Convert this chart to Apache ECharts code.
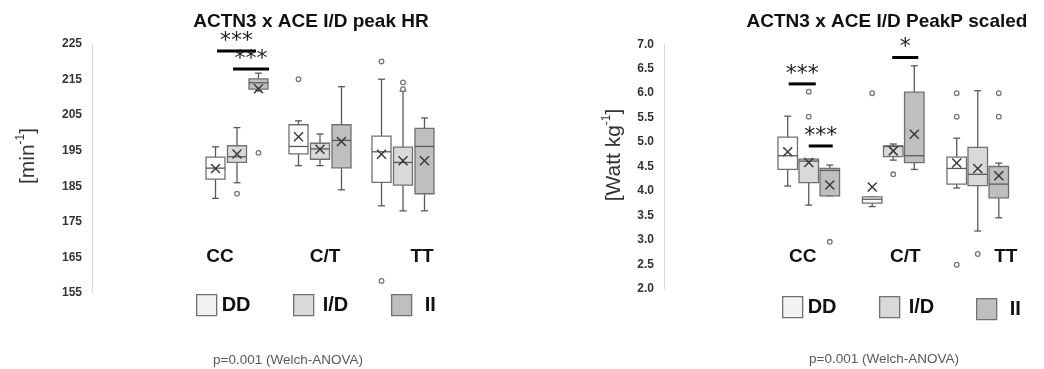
<!DOCTYPE html>
<html>
<head>
<meta charset="utf-8">
<script src="https://cdn.jsdelivr.net/npm/echarts@6/dist/echarts.min.js"></script>
<style>
html, body { margin: 0; padding: 0; background: #fff; }
#chart { width: 1044px; height: 369px; }
</style>
</head>
<body>
<div id="chart"></div>
<script>
// ACTN3 groups on the x axis, ACE I/D genotypes as the three boxes
var groups = ['CC', 'C/T', 'TT'];
var genotypes = ['DD', 'I/D', 'II'];

// peak HR [min-1], per group: [min, q1, median, q3, max, mean]
var hrDD = [[181.6, 187.0, 190.1, 193.2, 196.1, 190.0], [190.8, 194.1, 196.2, 202.3, 203.4, 198.9], [179.5, 186.1, 194.7, 199.1, 215.1, 194.0]];
var hrID = [[186.0, 191.7, 193.3, 196.4, 201.5, 194.1], [190.8, 192.6, 195.5, 197.1, 199.7, 195.4], [178.1, 185.3, 191.7, 196.0, 211.8, 192.2]];
var hrII = [[211.8, 212.3, 214.1, 215.2, 216.8, 212.4], [184.0, 190.2, 197.9, 202.3, 213.0, 197.6], [178.1, 182.9, 196.2, 201.3, 204.2, 192.2]];
// outliers: [group index, value]
var hrOutDD = [[1, 215.1], [2, 220.1], [2, 158.4]];
var hrOutID = [[0, 182.9], [2, 214.2], [2, 212.3]];
var hrOutII = [[0, 194.4]];

// peak power scaled [Watt kg-1]
var ppDD = [[4.10, 4.44, 4.72, 5.10, 5.53, 4.80], [3.68, 3.75, 3.83, 3.88, 3.88, 4.08], [4.06, 4.14, 4.46, 4.69, 5.08, 4.57]];
var ppID = [[3.71, 4.17, 4.61, 4.65, 4.65, 4.58], [4.63, 4.70, 4.91, 4.92, 4.96, 4.82], [3.18, 4.11, 4.34, 4.89, 6.05, 4.46]];
var ppII = [[3.90, 3.90, 4.42, 4.46, 4.53, 4.12], [4.44, 4.58, 4.72, 6.02, 6.56, 5.16], [3.45, 3.86, 4.14, 4.50, 4.57, 4.31]];
var ppOutDD = [[1, 6.0], [2, 6.0], [2, 5.52], [2, 2.49]];
var ppOutID = [[0, 6.03], [0, 5.52], [1, 4.34], [2, 2.71]];
var ppOutII = [[0, 2.96], [2, 6.0], [2, 5.52]];

// significance bars: [group index, from, to (in group widths), value, stars]
var hrSig = [[0, -0.241, 0.229, 223.0, 3], [0, -0.048, 0.386, 218.0, 3]];
var ppSig = [[0, -0.237, 0.083, 6.19, 3], [0, 0, 0.284, 4.92, 3], [1, -0.012, 0.296, 6.73, 1]];

var hrTicks = [155, 225, 10];
var ppTicks = [2, 7, 0.5];

var FONT = 'Liberation Sans, Arial, sans-serif';
var fills = ['#ffffff', '#d9d9d9', '#bfbfbf'];
var legendFills = ['#f2f2f2', '#d9d9d9', '#bfbfbf'];

function withIndex(rows) {
    return rows.map(function (r, i) { return [i].concat(r); });
}

function boxRender(k, shift, boxW) {
    return function (params, api) {
        var band = api.size([1, 0])[0];
        var g = api.value(0);
        var cx = api.coord([g, 0])[0] + (k - 1) * shift * band;
        var w = boxW * band;
        function py(d) { return api.coord([g, api.value(d)])[1]; }
        var yMin = py(1), yQ1 = py(2), yMed = py(3), yQ3 = py(4), yMax = py(5), yMean = py(6);
        var ln = { stroke: '#595959', lineWidth: 1.3 };
        var xs = { stroke: '#3a3a3a', lineWidth: 1.5 };
        var m = 4.5;
        return {
            type: 'group',
            children: [
                { type: 'line', shape: { x1: cx, y1: yMax, x2: cx, y2: yQ3 }, style: ln },
                { type: 'line', shape: { x1: cx, y1: yQ1, x2: cx, y2: yMin }, style: ln },
                { type: 'line', shape: { x1: cx - 3.5, y1: yMax, x2: cx + 3.5, y2: yMax }, style: ln },
                { type: 'line', shape: { x1: cx - 3.5, y1: yMin, x2: cx + 3.5, y2: yMin }, style: ln },
                { type: 'rect', shape: { x: cx - w / 2, y: yQ3, width: w, height: yQ1 - yQ3 },
                  style: { fill: api.visual('color'), stroke: '#707070', lineWidth: 1.3 } },
                { type: 'line', shape: { x1: cx - w / 2, y1: yMed, x2: cx + w / 2, y2: yMed }, style: ln },
                { type: 'line', shape: { x1: cx - m, y1: yMean - m, x2: cx + m, y2: yMean + m }, style: xs },
                { type: 'line', shape: { x1: cx - m, y1: yMean + m, x2: cx + m, y2: yMean - m }, style: xs }
            ]
        };
    };
}

function outRender(k, shift) {
    return function (params, api) {
        var band = api.size([1, 0])[0];
        var p = api.coord([api.value(0), api.value(1)]);
        return {
            type: 'circle',
            shape: { cx: p[0] + (k - 1) * shift * band, cy: p[1], r: 2.3 },
            style: { fill: '#ffffff', stroke: '#777777', lineWidth: 1.3 }
        };
    };
}

function sigRender(params, api) {
    var band = api.size([1, 0])[0];
    var p = api.coord([api.value(0), api.value(3)]);
    var x1 = p[0] + api.value(1) * band;
    var x2 = p[0] + api.value(2) * band;
    var stars = api.value(4) === 3 ? '***' : '*';
    return {
        type: 'group',
        children: [
            { type: 'line', shape: { x1: x1, y1: p[1], x2: x2, y2: p[1] }, style: { stroke: '#000', lineWidth: 3 } },
            { type: 'text', style: { text: stars, x: (x1 + x2) / 2, y: p[1] - 10, align: 'center', verticalAlign: 'middle',
              font: '22px DejaVu Sans, sans-serif', fill: '#222' } }
        ]
    };
}

var panels = [
    { stats: [hrDD, hrID, hrII], outs: [hrOutDD, hrOutID, hrOutII], sig: hrSig, shift: 0.259, boxW: 0.229 },
    { stats: [ppDD, ppID, ppII], outs: [ppOutDD, ppOutID, ppOutII], sig: ppSig, shift: 0.249, boxW: 0.231 }
];

var series = [];
panels.forEach(function (pn, p) {
    for (var k = 0; k < 3; k++) {
        series.push({
            name: genotypes[k], type: 'custom', xAxisIndex: p, yAxisIndex: p,
            itemStyle: { color: fills[k] },
            renderItem: boxRender(k, pn.shift, pn.boxW),
            encode: { x: 0, y: [1, 2, 3, 4, 5, 6] },
            data: withIndex(pn.stats[k])
        });
        series.push({
            name: genotypes[k], type: 'custom', xAxisIndex: p, yAxisIndex: p,
            itemStyle: { color: fills[k] }, z: 3,
            renderItem: outRender(k, pn.shift),
            encode: { x: 0, y: 1 },
            data: pn.outs[k]
        });
    }
    series.push({
        name: 'sig', type: 'custom', xAxisIndex: p, yAxisIndex: p, z: 4,
        renderItem: sigRender, encode: { x: 0, y: 3 },
        data: pn.sig
    });
});

// x label nudges (px), per group
var nudges = [[-17, 5, 19], [-6, 12, 28]];
function labelRich(n) {
    var rich = {};
    n.forEach(function (d, i) {
        rich['c' + i] = { fontSize: 19, fontWeight: 'bold', fontFamily: FONT, color: '#111',
            padding: d > 0 ? [0, 0, 0, 2 * d] : [0, -2 * d, 0, 0] };
    });
    return rich;
}

var legendPos = [
    [[191, 289, 0], [288, 289, 4], [386, 289, 8]],
    [[777, 291, 0], [874, 291, 4], [971, 293, 8]]
];
var legends = [];
legendPos.forEach(function (row) {
    row.forEach(function (pos, k) {
        legends.push({
            left: pos[0], top: pos[1], itemWidth: 20, itemHeight: 21, selectedMode: false,
            textStyle: { fontSize: 20, fontWeight: 'bold', fontFamily: FONT, color: '#111', padding: [0, 0, 0, pos[2]] },
            data: [{ name: genotypes[k], icon: 'rect',
                     itemStyle: { color: legendFills[k], borderColor: '#707070', borderWidth: 1.3 } }]
        });
    });
});

function yAxisFor(ticks, offset, name, gap, padTop, dec) {
    return {
        type: 'value', min: ticks[0], max: ticks[1], interval: ticks[2], offset: offset,
        axisLine: { show: true, lineStyle: { color: '#d9d9d9', width: 1 } },
        axisTick: { show: false }, splitLine: { show: false },
        axisLabel: { margin: 10, fontSize: 12, fontWeight: 'bold', fontFamily: FONT, color: '#333',
            formatter: function (v) { return dec ? v.toFixed(1) : v; } },
        name: name, nameLocation: 'middle', nameRotate: 90, nameGap: gap,
        nameTextStyle: {
            fontSize: 21, fontFamily: FONT, color: '#333', padding: [0, 0, 0, padTop],
            rich: { b: { fontSize: 21, fontFamily: FONT, color: '#333', lineHeight: 26 },
                    s: { fontSize: 12, fontFamily: FONT, color: '#333', verticalAlign: 'top', lineHeight: 26 } }
        }
    };
}

function xAxisFor(p, offset) {
    return {
        type: 'category', gridIndex: p, data: groups, offset: offset,
        axisLine: { show: false }, axisTick: { show: false }, splitLine: { show: false },
        axisLabel: { margin: 0, interval: 0,
            formatter: function (v, i) { return '{c' + i + '|' + v + '}'; },
            rich: labelRich(nudges[p]) }
    };
}

var option = {
    animation: false,
    backgroundColor: '#ffffff',
    title: [
        { text: 'ACTN3 x ACE I/D peak HR', left: 306, top: 7, textAlign: 'center',
          textStyle: { fontSize: 19, fontWeight: 'bold', fontFamily: FONT, color: '#111' } },
        { text: 'ACTN3 x ACE I/D PeakP scaled', left: 882, top: 7, textAlign: 'center',
          textStyle: { fontSize: 19, fontWeight: 'bold', fontFamily: FONT, color: '#111' } },
        { text: 'p=0.001 (Welch-ANOVA)', left: 283, top: 348, textAlign: 'center',
          textStyle: { fontSize: 13.5, fontWeight: 'normal', fontFamily: FONT, color: '#595959' } },
        { text: 'p=0.001 (Welch-ANOVA)', left: 879, top: 347, textAlign: 'center',
          textStyle: { fontSize: 13.5, fontWeight: 'normal', fontFamily: FONT, color: '#595959' } }
    ],
    legend: legends,
    grid: [
        { left: 195.5, right: 599.5, top: 44, bottom: 76 },
        { left: 766.5, right: 24, top: 44.3, bottom: 80.3 }
    ],
    xAxis: [xAxisFor(0, -46), xAxisFor(1, -41.5)],
    yAxis: [
        Object.assign(yAxisFor(hrTicks, 103.5, '{b|[min}{s|-1}{b|]}', 51, 25, false), { gridIndex: 0 }),
        Object.assign(yAxisFor(ppTicks, 102.5, '{b|[Watt kg}{s|-1}{b|]}', 37, 23, true), { gridIndex: 1 })
    ],
    series: series
};

var chart = echarts.init(document.getElementById('chart'));
chart.setOption(option);
</script>
</body>
</html>
